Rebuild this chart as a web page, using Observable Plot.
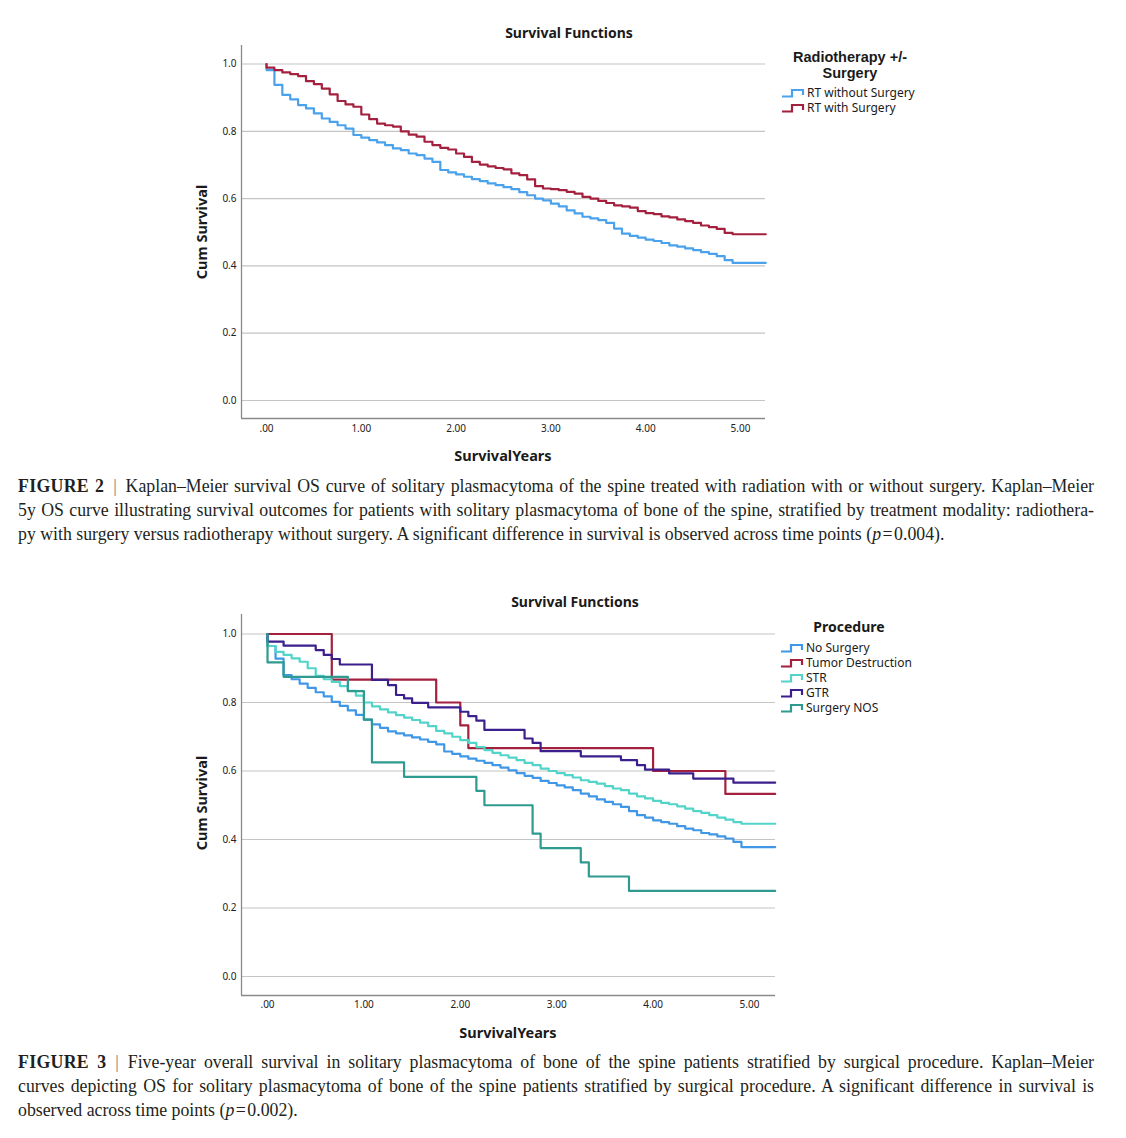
<!DOCTYPE html>
<html>
<head>
<meta charset="utf-8">
<script src="https://cdn.jsdelivr.net/npm/d3@7"></script>
<script src="https://cdn.jsdelivr.net/npm/@observablehq/plot@0.6"></script>
<style>
  html, body { margin: 0; padding: 0; background: #fff; }
  #page { position: relative; width: 1126px; height: 1138px; overflow: hidden; background: #fff; font-family: "Noto Sans", sans-serif; color: #1a1a1a; }
  .abs { position: absolute; }
  .ctitle { font-weight: bold; font-size: 14px; line-height: 18px; text-align: center; width: 240px; }
  .xlabel { font-weight: bold; font-size: 14.5px; line-height: 18px; text-align: center; width: 240px; }
  .ylabel { font-weight: bold; font-size: 14.5px; line-height: 18px; white-space: nowrap; transform: translate(-50%, -50%) rotate(-90deg); }
  .legtitle { font-weight: bold; font-size: 14px; line-height: 16px; text-align: center; width: 170px; }
  .legtitle2 { font-family: "Liberation Sans", sans-serif; font-weight: bold; font-size: 14.5px; line-height: 16px; text-align: center; width: 170px; }
  .legitem { display: flex; align-items: center; height: 15px; font-size: 12px; line-height: 14px; white-space: nowrap; }
  .legitem svg { margin-right: 1px; }
  .caption { font-family: "Liberation Serif", serif; font-size: 17.8px; line-height: 24px; color: #231f20; width: 1076px; left: 18px; }
  .caption .ln { text-align: justify; text-align-last: justify; white-space: nowrap; }
  .caption .last { text-align: left; text-align-last: left; }
  .caption b { letter-spacing: 0.3px; }
  .caption .sep { color: #777; }
</style>
</head>
<body>
<div id="page"></div>
<script>
// ---------- Data ----------
// Figure 2: Radiotherapy +/- Surgery
const topSeries = ["RT without Surgery", "RT with Surgery"];
const topColors = ["#4aa2ec", "#a4203f"];
// survival months (first two entries: the drop at time 0; last entry: end of follow-up)
const topMonths = [0, 0, 1, 2, 3, 4, 5, 6, 7, 8, 9, 10, 11, 12, 13, 14, 15, 16, 17, 18, 19, 20,
  21, 22, 23, 24, 25, 26, 27, 28, 29, 30, 31, 32, 33, 34, 35, 36, 37, 38, 39, 40,
  41, 42, 43, 44, 45, 46, 47, 48, 49, 50, 51, 52, 53, 54, 55, 56, 57, 58, 59, 63.2];
const rtWithoutSurgery = [1.0, 0.982, 0.938, 0.908, 0.895, 0.878, 0.868, 0.853, 0.838, 0.828, 0.818,
  0.808, 0.789, 0.781, 0.774, 0.767, 0.759, 0.749, 0.744, 0.734, 0.729, 0.719, 0.709, 0.685, 0.678,
  0.672, 0.665, 0.658, 0.652, 0.645, 0.640, 0.634, 0.628, 0.619, 0.610, 0.600, 0.595, 0.585, 0.577,
  0.565, 0.556, 0.546, 0.541, 0.536, 0.528, 0.511, 0.496, 0.489, 0.484, 0.478, 0.474, 0.468, 0.461,
  0.457, 0.452, 0.447, 0.441, 0.436, 0.429, 0.417, 0.409, 0.409];
const rtWithSurgery = [1.0, 0.989, 0.982, 0.975, 0.970, 0.964, 0.949, 0.940, 0.927, 0.910, 0.890,
  0.880, 0.873, 0.850, 0.836, 0.823, 0.818, 0.814, 0.800, 0.790, 0.784, 0.769, 0.759, 0.751, 0.746,
  0.734, 0.724, 0.709, 0.701, 0.696, 0.691, 0.687, 0.675, 0.670, 0.657, 0.637, 0.630, 0.628, 0.625,
  0.620, 0.615, 0.605, 0.600, 0.593, 0.587, 0.580, 0.577, 0.573, 0.563, 0.557, 0.554, 0.547, 0.544,
  0.538, 0.533, 0.528, 0.520, 0.515, 0.510, 0.498, 0.494, 0.494];

// Figure 3: Procedure
const botSeries = ["No Surgery", "Tumor Destruction", "STR", "GTR", "Surgery NOS"];
const botColors = ["#3f97e6", "#a3213e", "#52d4c9", "#3b1f8c", "#2f9a8f"];
const monthlyMonths = topMonths;
const noSurgery = [1.0, 0.965, 0.928, 0.880, 0.868, 0.855, 0.843, 0.830, 0.818, 0.802, 0.790,
  0.777, 0.764, 0.750, 0.736, 0.726, 0.716, 0.710, 0.704, 0.698, 0.692, 0.685, 0.678, 0.657, 0.650,
  0.643, 0.636, 0.630, 0.624, 0.617, 0.610, 0.602, 0.594, 0.586, 0.580, 0.571, 0.565, 0.558, 0.552,
  0.544, 0.534, 0.526, 0.517, 0.510, 0.503, 0.495, 0.483, 0.471, 0.464, 0.456, 0.451, 0.446, 0.439,
  0.432, 0.427, 0.419, 0.415, 0.409, 0.403, 0.393, 0.378, 0.378];
const str = [1.0, 0.965, 0.948, 0.939, 0.929, 0.919, 0.900, 0.878, 0.868, 0.860, 0.848,
  0.834, 0.820, 0.800, 0.789, 0.780, 0.771, 0.763, 0.756, 0.749, 0.741, 0.731, 0.717, 0.710, 0.700,
  0.690, 0.682, 0.670, 0.661, 0.653, 0.646, 0.639, 0.632, 0.624, 0.617, 0.607, 0.600, 0.594, 0.588,
  0.581, 0.573, 0.568, 0.563, 0.556, 0.549, 0.544, 0.534, 0.526, 0.520, 0.513, 0.507, 0.503, 0.497,
  0.490, 0.483, 0.478, 0.471, 0.464, 0.458, 0.451, 0.446, 0.446];
const tumorDestructionMonths = [0, 8, 21, 24, 25, 48, 57, 63.2];
const tumorDestruction = [1.0, 0.867, 0.800, 0.733, 0.667, 0.600, 0.533, 0.533];
const gtrMonths = [0, 0, 2, 6, 7, 8, 9, 13, 15, 16, 17, 18, 20, 24, 25, 26, 27, 32, 33, 34, 39, 44, 46, 47, 50, 53, 58, 63.2];
const gtr = [1.0, 0.978, 0.966, 0.953, 0.939, 0.927, 0.911, 0.866, 0.851, 0.822, 0.812, 0.799, 0.786,
  0.773, 0.760, 0.747, 0.720, 0.695, 0.682, 0.658, 0.643, 0.632, 0.617, 0.604, 0.593, 0.578, 0.566, 0.566];
const surgeryNOSMonths = [0, 0, 2, 10, 12, 13, 17, 26, 27, 33, 34, 39, 40, 45, 63.2];
const surgeryNOS = [1.0, 0.917, 0.875, 0.833, 0.750, 0.625, 0.583, 0.542, 0.500, 0.417, 0.375, 0.333, 0.292, 0.250, 0.250];

// Ticks
const xTickValues = [0, 1, 2, 3, 4, 5];
const xTickLabels = [".00", "1.00", "2.00", "3.00", "4.00", "5.00"];
const yTickValues = [0, 0.2, 0.4, 0.6, 0.8, 1.0];
const yTickLabels = ["0.0", "0.2", "0.4", "0.6", "0.8", "1.0"];

// ---------- Build ----------
function km(series, months, surv) {
  return months.map((m, i) => ({series, t: m / 12, s: surv[i]}));
}
const topRows = [
  ...km(topSeries[0], topMonths, rtWithoutSurgery),
  ...km(topSeries[1], topMonths, rtWithSurgery)
];
const botRows = [
  ...km(botSeries[0], monthlyMonths, noSurgery),
  ...km(botSeries[1], tumorDestructionMonths, tumorDestruction),
  ...km(botSeries[2], monthlyMonths, str),
  ...km(botSeries[3], gtrMonths, gtr),
  ...km(botSeries[4], surgeryNOSMonths, surgeryNOS)
];

function kmChart(rows, series, colors, opts) {
  return Plot.plot({
    width: 1126,
    height: opts.height,
    marginLeft: opts.ml, marginRight: opts.mr, marginTop: opts.mt, marginBottom: opts.mb,
    style: {fontFamily: "Noto Sans, sans-serif", fontSize: "10px", color: "#222", background: "transparent"},
    x: {domain: opts.xd, label: null},
    y: {domain: opts.yd, label: null},
    color: {domain: series, range: colors},
    marks: [
      Plot.gridY(yTickValues, {stroke: "#c4c4c4", strokeOpacity: 1, strokeWidth: 1.2}),
      Plot.axisY(yTickValues, {tickSize: 0, tickPadding: 5, tickFormat: d => yTickLabels[yTickValues.indexOf(d)], fontSize: 10}),
      Plot.axisX(xTickValues, {tickSize: 0, tickPadding: opts.xpad, tickFormat: d => xTickLabels[xTickValues.indexOf(d)], fontSize: 10}),
      Plot.ruleX([opts.xd[0]], {stroke: "#8a8a8a", strokeWidth: 1.3}),
      Plot.ruleY([opts.yd[0]], {stroke: "#8a8a8a", strokeWidth: 1.3}),
      Plot.line(rows, {x: "t", y: "s", z: "series", stroke: "series", curve: "step-after", strokeWidth: 2.2})
    ]
  });
}

const page = document.getElementById("page");

const topChart = kmChart(topRows, topSeries, topColors, {
  height: 470, ml: 241, mr: 361, mt: 45, mb: 52,
  xd: [-0.264, 5.264], yd: [-0.0535, 1.055], xpad: 6
});
topChart.style.position = "absolute"; topChart.style.left = "0px"; topChart.style.top = "0px";
page.appendChild(topChart);

const botChart = kmChart(botRows, botSeries, botColors, {
  height: 470, ml: 241, mr: 351, mt: 44, mb: 45,
  xd: [-0.27, 5.27], yd: [-0.0555, 1.057], xpad: 5
});
botChart.style.position = "absolute"; botChart.style.left = "0px"; botChart.style.top = "570px";
page.appendChild(botChart);

function el(html, cls, css) {
  const d = document.createElement("div");
  d.className = "abs " + cls;
  d.innerHTML = html;
  Object.assign(d.style, css);
  page.appendChild(d);
  return d;
}
function icon(color) {
  return `<svg width="25" height="12" viewBox="0 0 25 12"><path d="M1,9.5H11V3H22V8" fill="none" stroke="${color}" stroke-width="2.2"/></svg>`;
}
function legend(series, colors, left, top0) {
  series.forEach((s, i) => {
    el(icon(colors[i]) + `<span>${s}</span>`, "legitem", {left: left + "px", top: (top0 + 15 * i) + "px"});
  });
}

// Figure 2 texts
el("Survival Functions", "ctitle", {left: "449px", top: "24px"});
el("Cum Survival", "ylabel", {left: "201px", top: "232px"});
el("SurvivalYears", "xlabel", {left: "383px", top: "446px"});
el("Radiotherapy +/-", "legtitle2", {left: "765px", top: "49px"});
el("Surgery", "legtitle2", {left: "765px", top: "65px"});
legend(topSeries, topColors, 781, 85.5);

// Figure 3 texts
el("Survival Functions", "ctitle", {left: "455px", top: "593px"});
el("Cum Survival", "ylabel", {left: "201px", top: "803px"});
el("SurvivalYears", "xlabel", {left: "388px", top: "1023px"});
el("Procedure", "legtitle", {left: "764px", top: "619px"});
legend(botSeries, botColors, 780, 640.5);

// Captions
el(`<div class="ln"><b>FIGURE 2</b>&ensp;<span class="sep">|</span>&ensp;Kaplan–Meier survival OS curve of solitary plasmacytoma of the spine treated with radiation with or without surgery. Kaplan–Meier</div>
<div class="ln">5y OS curve illustrating survival outcomes for patients with solitary plasmacytoma of bone of the spine, stratified by treatment modality: radiothera-</div>
<div class="ln last">py with surgery versus radiotherapy without surgery. A significant difference in survival is observed across time points (<i>p</i>&#8202;=&#8202;0.004).</div>`,
  "caption", {top: "474px"});
el(`<div class="ln"><b>FIGURE 3</b>&ensp;<span class="sep">|</span>&ensp;Five-year overall survival in solitary plasmacytoma of bone of the spine patients stratified by surgical procedure. Kaplan–Meier</div>
<div class="ln">curves depicting OS for solitary plasmacytoma of bone of the spine patients stratified by surgical procedure. A significant difference in survival is</div>
<div class="ln last">observed across time points (<i>p</i>&#8202;=&#8202;0.002).</div>`,
  "caption", {top: "1050px"});
</script>
</body>
</html>
